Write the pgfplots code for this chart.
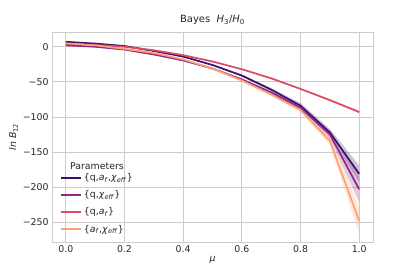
\documentclass[border=0pt]{standalone}
\usepackage{pgfplots}
\pgfplotsset{compat=1.18}
\usepgfplotslibrary{fillbetween}
\usepackage{fontspec}
\setmainfont{DejaVu Sans}
\definecolor{c1}{HTML}{3B0F70}
\definecolor{c2}{HTML}{8C2981}
\definecolor{c3}{HTML}{DE4968}
\definecolor{c4}{HTML}{FE9F6D}
\definecolor{gridc}{HTML}{CCCCCC}
\definecolor{txt}{HTML}{262626}
\newcommand{\af}{\textit{a}\textsubscript{\textit{f}}}
\newcommand{\chieff}{\textit{χ}\textsubscript{\textit{eff}}}
\begin{document}
\begin{tikzpicture}
\path (-52bp,-35bp) rectangle (363bp,242bp);
\begin{axis}[
  at={(0,0)}, anchor=south west,
  scale only axis, width=321bp, height=210bp,
  xmin=-0.047, xmax=1.047, ymin=-278, ymax=21,
  xtick={0,0.2,0.4,0.6,0.8,1.0},
  xticklabels={0.0,0.2,0.4,0.6,0.8,1.0},
  ytick={-250,-200,-150,-100,-50,0},
  yticklabels={−250,−200,−150,−100,−50,0},
  grid=major,
  major grid style={gridc, line width=0.9pt},
  axis line style={gridc, line width=1pt},
  tick style={draw=none},
  ticklabel style={font=\fontsize{9.4}{11}\selectfont, text=txt},
  title={Bayes\ \ \textit{H}\textsubscript{3}/\textit{H}\textsubscript{0}},
  title style={font=\fontsize{10}{12}\selectfont, text=txt, yshift=-2bp},
  xlabel={\textit{μ}},
  ylabel={\textit{ln B}\textsubscript{12}},
  label style={font=\fontsize{9.4}{11}\selectfont, text=txt},
  xlabel style={yshift=3bp},
  ylabel style={yshift=-2bp},
  legend style={draw=none, fill=none, at={(0.025,0.03)}, anchor=south west,
    inner xsep=0pt, inner ysep=0pt,
    font=\fontsize{9.4}{11}\selectfont, text=txt, row sep=4.5bp},
  legend cell align=left,
  legend image code/.code={\draw[#1, line width=1.7pt] (0bp,0bp) -- (20bp,0bp);},
  every axis plot/.append style={line width=1.7pt},
]
% bands
\addplot[draw=none, name path=u1, forget plot] coordinates {(0,8)(0.1,5.5)(0.2,2)(0.3,-5)(0.4,-13)(0.5,-25)(0.6,-39.5)(0.7,-59)(0.8,-80)(0.9,-117)(1.0,-169)};
\addplot[draw=none, name path=l1, forget plot] coordinates {(0,6)(0.1,3.5)(0.2,0)(0.3,-7)(0.4,-15)(0.5,-27)(0.6,-42.5)(0.7,-63)(0.8,-88)(0.9,-127)(1.0,-193)};
\addplot[c1, opacity=0.25, forget plot] fill between[of=u1 and l1];
\addplot[draw=none, name path=u2, forget plot] coordinates {(0,3)(0.1,1)(0.2,-3)(0.3,-10)(0.4,-18.5)(0.5,-30)(0.6,-45)(0.7,-63)(0.8,-84)(0.9,-120)(1.0,-185)};
\addplot[draw=none, name path=l2, forget plot] coordinates {(0,1)(0.1,-1)(0.2,-5)(0.3,-12)(0.4,-20.5)(0.5,-32)(0.6,-48)(0.7,-67)(0.8,-90)(0.9,-131)(1.0,-222)};
\addplot[c2, opacity=0.25, forget plot] fill between[of=u2 and l2];
\addplot[draw=none, name path=u3, forget plot] coordinates {(0,5)(0.1,3.5)(0.2,1)(0.3,-4)(0.4,-11)(0.5,-20)(0.6,-31)(0.7,-44)(0.8,-59)(0.9,-74.5)(1.0,-91)};
\addplot[draw=none, name path=l3, forget plot] coordinates {(0,3)(0.1,1.5)(0.2,-1)(0.3,-6)(0.4,-13)(0.5,-22)(0.6,-33)(0.7,-46)(0.8,-61)(0.9,-77.5)(1.0,-95)};
\addplot[c3, opacity=0.25, forget plot] fill between[of=u3 and l3];
\addplot[draw=none, name path=u4, forget plot] coordinates {(0,6)(0.1,3)(0.2,-2)(0.3,-8)(0.4,-17)(0.5,-30)(0.6,-46.5)(0.7,-66)(0.8,-87)(0.9,-129)(1.0,-228)};
\addplot[draw=none, name path=l4, forget plot] coordinates {(0,4)(0.1,1)(0.2,-4)(0.3,-10)(0.4,-19)(0.5,-32)(0.6,-49.5)(0.7,-70)(0.8,-93)(0.9,-140)(1.0,-266)};
\addplot[c4, opacity=0.25, forget plot] fill between[of=u4 and l4];
% lines
\addplot[c1] coordinates {(0,7)(0.1,4.5)(0.2,1)(0.3,-6)(0.4,-14)(0.5,-26)(0.6,-41)(0.7,-61)(0.8,-84)(0.9,-122)(1.0,-181)};
\addlegendentry{\{q,\af,\chieff\}}
\addplot[c2] coordinates {(0,2)(0.1,0)(0.2,-4)(0.3,-11)(0.4,-19.5)(0.5,-31)(0.6,-46.5)(0.7,-65)(0.8,-87)(0.9,-125)(1.0,-203)};
\addlegendentry{\{q,\chieff\}}
\addplot[c3] coordinates {(0,4)(0.1,2.5)(0.2,0)(0.3,-5)(0.4,-12)(0.5,-21)(0.6,-32)(0.7,-45)(0.8,-60)(0.9,-76)(1.0,-93)};
\addlegendentry{\{q,\af\}}
\addplot[c4] coordinates {(0,5)(0.1,2)(0.2,-3)(0.3,-9)(0.4,-18)(0.5,-31)(0.6,-48)(0.7,-68)(0.8,-90)(0.9,-134)(1.0,-248)};
\addlegendentry{\{\af,\chieff\}}
\node[font=\fontsize{9.4}{11}\selectfont, text=txt] at (axis description cs:0.14,0.362) {Parameters};
\end{axis}
\end{tikzpicture}
\end{document}
